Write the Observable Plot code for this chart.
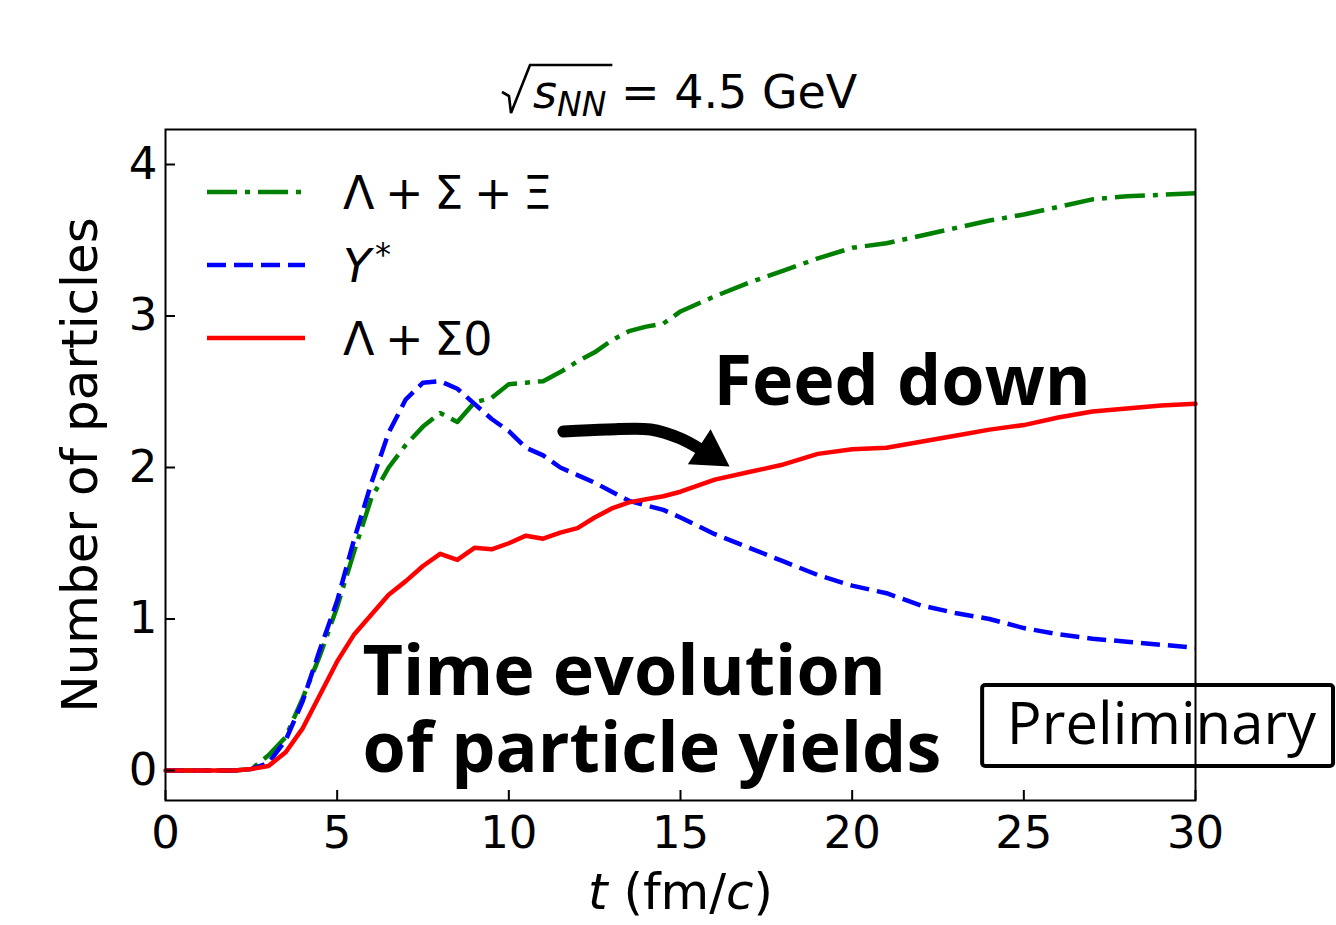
<!DOCTYPE html>
<html>
<head>
<meta charset="utf-8">
<script src="https://cdn.jsdelivr.net/npm/d3@7"></script>
<script src="https://cdn.jsdelivr.net/npm/@observablehq/plot@0.6"></script>
<style>
  html, body { margin: 0; padding: 0; background: #fff; }
</style>
</head>
<body>
<div id="chart"></div>
<script>
// Time axis (fm/c) and particle yields per species group
const time = [0,1,2,2.5,3,3.5,4,4.5,5,5.5,6,6.5,7,7.5,8,8.5,9,9.5,10,10.5,11,11.5,12,12.5,13,13.5,14,14.5,15,16,17,18,19,20,21,22,23,24,25,26,27,28,29,30];
const hyperonTotal = [0,0,0,0.01,0.1,0.22,0.48,0.76,1.08,1.45,1.8,2.0,2.15,2.27,2.36,2.3,2.43,2.46,2.55,2.56,2.57,2.63,2.7,2.76,2.84,2.9,2.93,2.95,3.03,3.13,3.22,3.3,3.38,3.45,3.48,3.53,3.58,3.63,3.67,3.72,3.77,3.79,3.8,3.81];
const resonances = [0,0,0,0.01,0.05,0.2,0.46,0.8,1.12,1.53,1.9,2.23,2.45,2.56,2.57,2.52,2.42,2.32,2.24,2.13,2.08,2.0,1.95,1.9,1.84,1.78,1.75,1.72,1.67,1.56,1.47,1.38,1.29,1.22,1.17,1.09,1.04,1.0,0.94,0.9,0.87,0.85,0.83,0.81];
const lambdaSigma0 = [0,0,0,0.01,0.03,0.12,0.28,0.5,0.72,0.9,1.03,1.16,1.25,1.35,1.43,1.39,1.47,1.46,1.5,1.55,1.53,1.57,1.6,1.67,1.73,1.77,1.79,1.81,1.84,1.92,1.97,2.02,2.09,2.12,2.13,2.17,2.21,2.25,2.28,2.33,2.37,2.39,2.41,2.42];

const xTicks = [0, 5, 10, 15, 20, 25, 30];
const yTicks = [0, 1, 2, 3, 4];

// Annotation anchors, in data units (t, yield)
const feedArrowPath = [[11.59, 2.238], [12.87, 2.251], [14.13, 2.251], [15.0, 2.191], [15.64, 2.112]];
const feedArrowHead = [[15.84, 2.094]];
const feedLabel = [[15.96, 2.558]];
const yieldLabel = [[5.74, 0.862]];
const prelimBox = [[23.8, 34.02, 0.026, 0.561]];
const prelimLabel = [[29.01, 0.297]];

// Figure geometry and styles
const W = 1336, H = 925;
const frame = {left: 165, right: 1195, top: 129, bottom: 800};
const frameW = frame.right - frame.left, frameH = frame.bottom - frame.top;
const tickLen = 10;
const lineWidth = 4.5;
const mathFont = "DejaVu Sans";
const annoFont = "Open Sans";

const series = [
  {values: hyperonTotal, color: "#008000", dash: "30,8,5,8",
   label: [{text: "Λ + Σ + Ξ"}]},
  {values: resonances, color: "#0000ff", dash: "19,8",
   label: [{text: "Y", italic: true}, {text: "*", sup: true}]},
  {values: lambdaSigma0, color: "#ff0000", dash: null,
   label: [{text: "Λ + Σ0"}]}
];

const rowsOf = (values) => time.map((t, i) => ({t, v: values[i]}));

function legendMark(index, scales, values, dims) {
  const g = d3.create("svg:g")
    .attr("font-family", mathFont)
    .attr("font-size", 46)
    .attr("text-anchor", "start")
    .attr("fill", "black");
  const x0 = dims.marginLeft + 42, x1 = dims.marginLeft + 140, tx = dims.marginLeft + 178;
  series.forEach((s, i) => {
    const y = dims.marginTop + 63 + i * 73;
    const line = g.append("line")
      .attr("x1", x0).attr("x2", x1).attr("y1", y).attr("y2", y)
      .attr("stroke", s.color).attr("stroke-width", lineWidth);
    if (s.dash) line.attr("stroke-dasharray", s.dash);
    const text = g.append("text").attr("x", tx).attr("y", y + 17).attr("word-spacing", -4);
    s.label.forEach(p => {
      const ts = text.append("tspan").text(p.text);
      if (p.italic) ts.attr("font-style", "italic");
      if (p.sup) ts.attr("font-size", 32).attr("dy", -17).attr("dx", 4);
    });
  });
  return g.node();
}

function titleMark(index, scales, values, dims) {
  const g = d3.create("svg:g")
    .attr("font-family", mathFont)
    .attr("font-size", 46)
    .attr("text-anchor", "start")
    .attr("fill", "black");
  const text = g.append("text")
    .attr("class", "title-math")
    .attr("x", 533)
    .attr("y", 108);
  text.append("tspan").attr("font-style", "italic").text("s");
  text.append("tspan").attr("font-style", "italic").attr("font-size", 33).attr("dy", 8).text("NN");
  text.append("tspan").attr("dy", -8).text(" = 4.5 GeV");
  return g.node();
}

const chart = Plot.plot({
  width: W,
  height: H,
  marginLeft: frame.left,
  marginRight: W - frame.right,
  marginTop: frame.top,
  marginBottom: H - frame.bottom,
  x: {domain: [0, 30]},
  y: {domain: [(770 - frame.bottom) / 151.5, (770 - frame.top) / 151.5]},
  style: {fontFamily: mathFont, background: "white", color: "black"},
  marks: [
    // Preliminary stamp
    Plot.rect(prelimBox, {x1: d => d[0], x2: d => d[1], y1: d => d[2], y2: d => d[3],
      fill: "white", stroke: "black", strokeWidth: 4, rx: 3}),
    Plot.text(prelimLabel, {x: d => d[0], y: d => d[1], text: () => "Preliminary",
      fontFamily: annoFont, fontSize: 58, fill: "black", lineAnchor: "middle"}),

    // Yield curves
    Plot.line(rowsOf(hyperonTotal), {x: "t", y: "v", stroke: series[0].color,
      strokeWidth: lineWidth, strokeDasharray: series[0].dash, strokeLinecap: "butt"}),
    Plot.line(rowsOf(resonances), {x: "t", y: "v", stroke: series[1].color,
      strokeWidth: lineWidth, strokeDasharray: series[1].dash, strokeLinecap: "butt"}),
    Plot.line(rowsOf(lambdaSigma0), {x: "t", y: "v", stroke: series[2].color,
      strokeWidth: lineWidth}),

    // Feed-down arrow
    Plot.line(feedArrowPath, {x: d => d[0], y: d => d[1], curve: "catmull-rom",
      stroke: "black", strokeWidth: 12, strokeLinecap: "round"}),
    Plot.dot(feedArrowHead, {x: d => d[0], y: d => d[1], symbol: "triangle", r: 15.5,
      rotate: 123, fill: "black", stroke: "none"}),

    // Annotations
    Plot.text(feedLabel, {x: d => d[0], y: d => d[1], text: () => "Feed down",
      fontFamily: annoFont, fontWeight: 700, fontSize: 70, textAnchor: "start",
      lineAnchor: "middle", fill: "black"}),
    Plot.text(yieldLabel, {x: d => d[0], y: d => d[1], text: () => "Time evolution\nof particle yields",
      fontFamily: annoFont, fontWeight: 700, fontSize: 70, textAnchor: "start",
      lineAnchor: "top", lineHeight: 1.1, fill: "black"}),

    // Axes: labels, then inward ticks
    Plot.axisX(xTicks, {anchor: "bottom", tickSize: 0, tickPadding: 16, fontSize: 45,
      tickFormat: d3.format("d"), label: null}),
    Plot.axisY(yTicks, {anchor: "left", tickSize: 0, tickPadding: 8, fontSize: 45,
      tickFormat: d3.format("d"), label: null}),
    Plot.ruleX(xTicks, {x: d => d, insetTop: frameH - tickLen, stroke: "black", strokeWidth: 2}),
    Plot.ruleY(yTicks, {y: d => d, insetRight: frameW - tickLen, stroke: "black", strokeWidth: 2}),

    // Axis titles
    Plot.text(["Number of particles"], {frameAnchor: "left", dx: -85, rotate: -90,
      textAnchor: "middle", fontSize: 50, fill: "black", lineAnchor: "middle"}),
    Plot.text(["t (fm/c)"], {frameAnchor: "bottom", dy: 92, fontSize: 50, fill: "black",
      lineAnchor: "middle"}),

    legendMark,
    titleMark,
    Plot.frame({stroke: "black", strokeWidth: 2})
  ]
});

document.getElementById("chart").append(chart);

// Math typesetting touches: italic t / c in the x title and the radical in the title
(function typeset() {
  const svg = d3.select(chart);
  svg.selectAll("text").each(function () {
    const el = d3.select(this);
    if (this.textContent === "t (fm/c)") {
      const tnode = el.select("tspan").empty() ? el : el.select("tspan");
      tnode.text(null);
      tnode.append("tspan").attr("font-style", "italic").text("t");
      tnode.append("tspan").text(" (fm/");
      tnode.append("tspan").attr("font-style", "italic").text("c");
      tnode.append("tspan").text(")");
    }
  });
  const title = chart.querySelector("text.title-math");
  if (title) {
    const sx = title.getStartPositionOfChar(0).x;
    const ex = title.getEndPositionOfChar(2).x;
    const base = 108;
    d3.select(title.parentNode).append("path")
      .attr("d", `M${sx - 31},${base - 16} L${sx - 24},${base - 12} L${sx - 22},${base + 5} L${sx - 3},${base - 43} L${ex + 6},${base - 43}`)
      .attr("fill", "none").attr("stroke", "black").attr("stroke-width", 2.6)
      .attr("stroke-linejoin", "miter");
  }
})();
</script>
</body>
</html>
